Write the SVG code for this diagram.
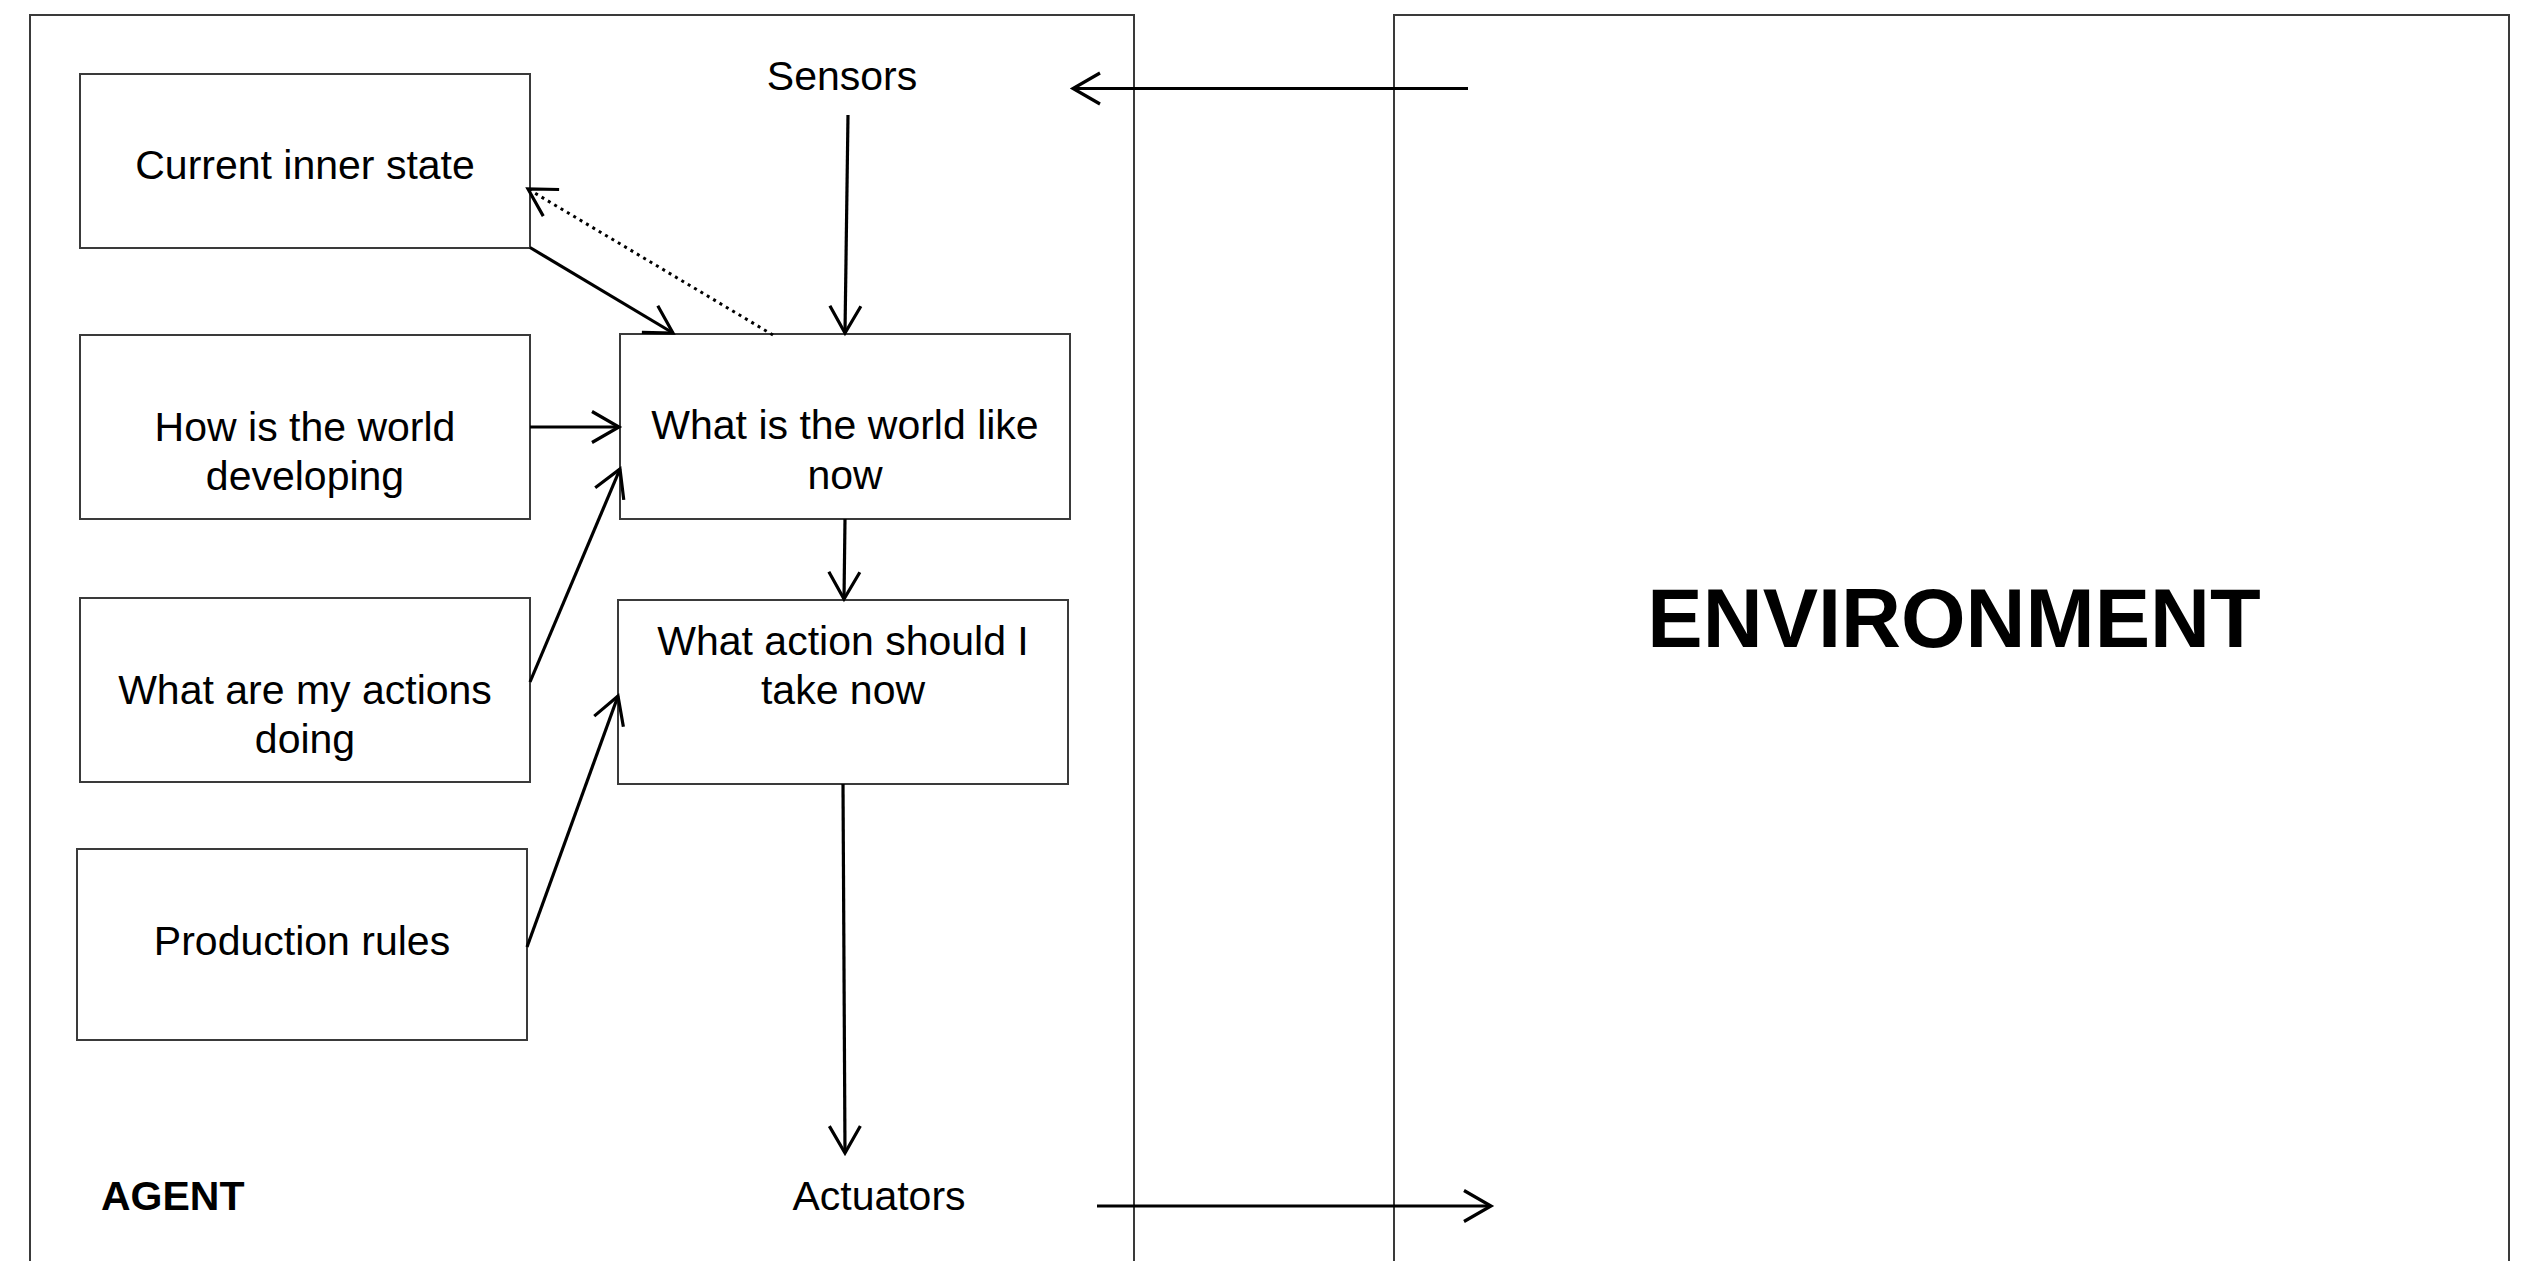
<svg xmlns="http://www.w3.org/2000/svg" width="2521" height="1261" viewBox="0 0 2521 1261">
  <defs>
    <style>
      .frame { fill: none; stroke: #3a3a3a; stroke-width: 2; }
      .box { fill: #ffffff; stroke: #3a3a3a; stroke-width: 2; }
      .lbl { font-family: "Liberation Sans", Arial, sans-serif; font-size: 41px; fill: #000; text-anchor: middle; }
      .bold { font-weight: bold; }
      .conn { fill: none; stroke: #000; stroke-width: 3.2; marker-end: url(#arrow); }
      .dotted { stroke-width: 3; stroke-dasharray: 3 4.4; }
    </style>
    <marker id="arrow" markerUnits="userSpaceOnUse" viewBox="-32 -20 36 40" refX="0" refY="0" markerWidth="36" markerHeight="40" orient="auto" overflow="visible">
      <path d="M-27,-15.5 L0,0 L-27,15.5" fill="none" stroke="#000" stroke-width="3.2" stroke-linejoin="miter"/>
    </marker>
  </defs>
  <rect x="0" y="0" width="2521" height="1261" fill="#ffffff"/>

  <g id="agent-frame">
    <rect class="frame" x="30" y="15" width="1104" height="1300"/>
    <text class="lbl bold" x="101" y="1210" style="text-anchor:start">AGENT</text>
  </g>
  <g id="environment">
    <rect class="frame" x="1394" y="15" width="1115" height="1300"/>
    <text class="lbl bold" x="1954" y="647" style="font-size:83px">ENVIRONMENT</text>
  </g>

  <g id="sensors">
    <text class="lbl" x="842" y="89.5">Sensors</text>
  </g>
  <g id="actuators">
    <text class="lbl" x="879" y="1210">Actuators</text>
  </g>

  <g id="current-inner-state">
    <rect class="box" x="80" y="74" width="450" height="174"/>
    <text class="lbl" x="305" y="178.5">Current inner state</text>
  </g>
  <g id="how-world-developing">
    <rect class="box" x="80" y="335" width="450" height="184"/>
    <text class="lbl" x="305" y="440.5">How is the world</text>
    <text class="lbl" x="305" y="489.5">developing</text>
  </g>
  <g id="actions-doing">
    <rect class="box" x="80" y="598" width="450" height="184"/>
    <text class="lbl" x="305" y="703.5">What are my actions</text>
    <text class="lbl" x="305" y="752.5">doing</text>
  </g>
  <g id="production-rules">
    <rect class="box" x="77" y="849" width="450" height="191"/>
    <text class="lbl" x="302" y="955">Production rules</text>
  </g>
  <g id="world-now">
    <rect class="box" x="620" y="334" width="450" height="185"/>
    <text class="lbl" x="845" y="439">What is the world like</text>
    <text class="lbl" x="845" y="488.5">now</text>
  </g>
  <g id="action-now">
    <rect class="box" x="618" y="600" width="450" height="184"/>
    <text class="lbl" x="843" y="654.5">What action should I</text>
    <text class="lbl" x="843" y="703.5">take now</text>
  </g>

  <g id="connectors">
    <line class="conn" x1="1468" y1="88.5" x2="1073" y2="88.5"/>
    <line class="conn" x1="848" y1="115" x2="845" y2="333"/>
    <line class="conn" x1="530" y1="247.5" x2="673" y2="333"/>
    <line class="conn dotted" x1="773" y1="335" x2="528" y2="189"/>
    <line class="conn" x1="530" y1="427" x2="619" y2="427"/>
    <line class="conn" x1="530" y1="682" x2="620" y2="469"/>
    <line class="conn" x1="527" y1="947" x2="618" y2="696"/>
    <line class="conn" x1="845" y1="519" x2="844" y2="599"/>
    <line class="conn" x1="843" y1="784" x2="845" y2="1153"/>
    <line class="conn" x1="1097" y1="1206" x2="1491" y2="1206"/>
  </g>
</svg>
